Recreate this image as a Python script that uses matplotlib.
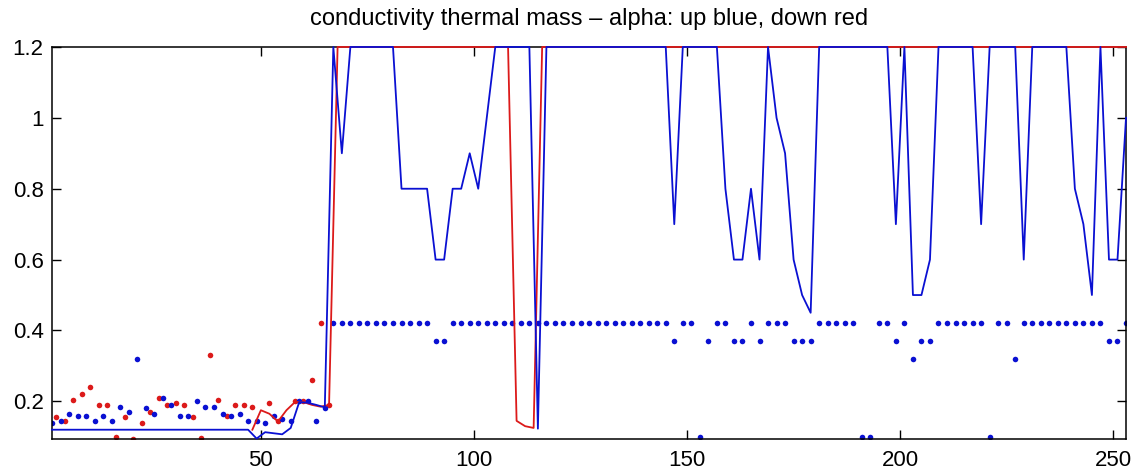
import numpy as np
import matplotlib
matplotlib.use('Agg')
import matplotlib.pyplot as plt

plt.rcParams['font.family'] = ['Liberation Sans', 'DejaVu Sans']

# profile index of the up (blue) and down (red) samples
blue_dot_x = list(range(1, 254, 2))
red_dot_x = list(range(2, 67, 2))

blue_dot_y = [
    0.14, 0.145, 0.165, 0.16, 0.16, 0.145, 0.16, 0.145, 0.185, 0.17,
    0.32, 0.18, 0.165, 0.21, 0.19, 0.16, 0.16, 0.2, 0.185, 0.185,
    0.165, 0.16, 0.165, 0.145, 0.145, 0.14, 0.16, 0.15, 0.145, 0.2,
    0.2, 0.145, 0.18,
    0.42, 0.42, 0.42, 0.42, 0.42, 0.42, 0.42, 0.42, 0.42, 0.42, 0.42, 0.42,
    0.37, 0.37,
    0.42, 0.42, 0.42, 0.42, 0.42, 0.42, 0.42, 0.42, 0.42, 0.42, 0.42, 0.42, 0.42,
    0.42, 0.42, 0.42, 0.42, 0.42, 0.42, 0.42, 0.42, 0.42, 0.42, 0.42, 0.42, 0.42,
    0.37, 0.42, 0.42, 0.1, 0.37, 0.42, 0.42, 0.37, 0.37, 0.42, 0.37, 0.42, 0.42,
    0.42, 0.37, 0.37, 0.37,
    0.42, 0.42, 0.42, 0.42, 0.42,
    0.1, 0.1, 0.42, 0.42, 0.37, 0.42, 0.32, 0.37, 0.37,
    0.42, 0.42, 0.42, 0.42, 0.42, 0.42,
    0.1, 0.42, 0.42, 0.32,
    0.42, 0.42, 0.42, 0.42, 0.42, 0.42, 0.42, 0.42, 0.42, 0.42,
    0.37, 0.37, 0.42,
]

red_dot_y = [
    0.155, 0.145, 0.205, 0.22, 0.24, 0.19, 0.19, 0.1, 0.155, 0.095,
    0.14, 0.17, 0.21, 0.19, 0.195, 0.19, 0.155, 0.097, 0.33, 0.205,
    0.16, 0.19, 0.19, 0.185, np.nan, 0.195, 0.145, np.nan, 0.2, 0.2,
    0.26, 0.42, 0.19,
]

blue_line_x = [1, 47, 49, 51, 53, 55, 57, 59, 61, 63, 65, 67, 69, 71, 81, 83,
               89, 91, 93, 95, 97, 99, 101, 105, 113, 115, 117, 145, 147, 149,
               157, 159, 161, 163, 165, 167, 169, 171, 173, 175, 177, 179, 181,
               197, 199, 201, 203, 205, 207, 209, 217, 219, 221, 227, 229, 231,
               239, 241, 243, 245, 247, 249, 251, 253]
blue_line_y = [0.12, 0.12, 0.095, 0.113, 0.11, 0.107, 0.125, 0.198, 0.196, 0.19,
               0.183, 1.2, 0.9, 1.2, 1.2, 0.8, 0.8, 0.6, 0.6, 0.8, 0.8, 0.9,
               0.8, 1.2, 1.2, 0.123, 1.2, 1.2, 0.7, 1.2, 1.2, 0.8, 0.6, 0.6,
               0.8, 0.6, 1.2, 1.0, 0.9, 0.6, 0.5, 0.45, 1.2, 1.2, 0.7, 1.2,
               0.5, 0.5, 0.6, 1.2, 1.2, 0.7, 1.2, 1.2, 0.6, 1.2, 1.2, 0.8,
               0.7, 0.5, 1.2, 0.6, 0.6, 1.0]

red_line_x = [48, 50, 52, 54, 56, 58, 60, 62, 64, 66, 68, 108, 110, 112, 114, 116, 253]
red_line_y = [0.12, 0.175, 0.165, 0.143, 0.175, 0.198, 0.198, 0.19, 0.185,
              0.19, 1.2, 1.2, 0.145, 0.13, 0.125, 1.2, 1.2]

x_ticks = [50, 100, 150, 200, 250]
y_ticks = [0.2, 0.4, 0.6, 0.8, 1.0, 1.2]
y_tick_labels = ['0.2', '0.4', '0.6', '0.8', '1', '1.2']

blue = '#0a10d2'
red = '#dc1a1a'

fig = plt.figure(figsize=(11.39, 4.75), dpi=100)
ax = fig.add_axes([0.0457, 0.0752, 0.9429, 0.8259])

ax.plot(red_dot_x, red_dot_y, 'o', color=red, markersize=4, markeredgewidth=0, zorder=2)
ax.plot(blue_dot_x, blue_dot_y, 'o', color=blue, markersize=4, markeredgewidth=0, zorder=2.1)
ax.plot(red_line_x, red_line_y, '-', color=red, linewidth=1.3, zorder=3, clip_on=False)
ax.plot(blue_line_x, blue_line_y, '-', color=blue, linewidth=1.3, zorder=3.1, clip_on=False)

ax.set_xlim(1, 253)
ax.set_ylim(0.093, 1.2)
ax.set_xticks(x_ticks)
ax.set_yticks(y_ticks)
ax.set_yticklabels(y_tick_labels)
ax.tick_params(direction='in', length=6.5, width=1.0, top=True, right=True,
               labelsize=16, colors='black')
ax.tick_params(axis='x', pad=8)
ax.tick_params(axis='y', pad=6)
for s in ax.spines.values():
    s.set_linewidth(1.1)

ax.set_title('conductivity thermal mass – alpha: up blue, down red', fontsize=17, pad=16)

fig.savefig('out.png', dpi=100)
